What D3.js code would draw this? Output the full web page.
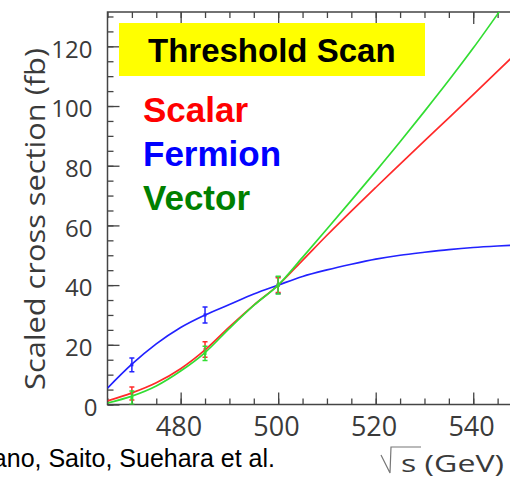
<!DOCTYPE html>
<html>
<head>
<meta charset="utf-8">
<script src="https://cdn.jsdelivr.net/npm/d3@7"></script>
<style>
  body { margin: 0; background: #fff; }
  svg { display: block; }
</style>
</head>
<body>
<svg id="chart" width="510" height="479"></svg>
<script>
// curve samples, every 5 GeV
var energy  = [465, 470, 475, 480, 485, 490, 495, 500, 505, 510, 515, 520, 525, 530, 535, 540, 545, 550];
var fermion = [5.5, 13.5, 20.3, 25.8, 30, 33.5, 37, 40, 42.9, 45.1, 47.0, 48.7, 50.0, 51.0, 51.9, 52.6, 53.1, 53.5];
var scalar  = [1.2, 3.9, 7.3, 12, 18.3, 26, 33.3, 40, 48.3, 56.7, 64.8, 72.7, 80.5, 88.3, 96, 103.8, 111.7, 119.5];
var vector  = [0.5, 2.8, 6.2, 11.2, 17.4, 25.5, 33.2, 40, 49.3, 58.8, 68.4, 78.1, 88, 98.2, 108.6, 119.4, 130.8, 142.5];

// measured points with errors
var ptEnergy   = [470, 485, 500];
var fermionPts = [13.3, 30, 40],  fermionErr = [2.3, 2.7, 2.8];
var scalarPts  = [3.7, 18.4, 40], scalarErr  = [2.2, 2.6, 2.5];
var vectorPts  = [2.3, 17.1, 40], vectorErr  = [2.2, 2.4, 3.0];

var xMajor = [480, 500, 520, 540];
var yMajor = [0, 20, 40, 60, 80, 100, 120];

var legendNames = ["Scalar", "Fermion", "Vector"];

var svg = d3.select("#chart");

var x = d3.scaleLinear().domain([465, 550]).range([107.5, 522]);
var y = d3.scaleLinear().domain([0, 131.5]).range([404.5, 12]);

var axisCol = "#444";
var labCol = "#3a3a3a";

svg.append("clipPath").attr("id", "plotclip")
  .append("rect")
  .attr("x", x(465)).attr("y", y(131.5))
  .attr("width", x(550) - x(465)).attr("height", y(0) - y(131.5));

// ticks: minor first then major, bottom + top + left
function tickAxis(axis, g) {
  g.call(axis);
  g.select(".domain").remove();
  g.selectAll("line").attr("stroke", axisCol).attr("stroke-width", 1.3);
}

var xMinor = d3.range(465, 551, 5);
var yMinor = d3.range(0, 131, 5);

tickAxis(d3.axisBottom(x).tickValues(xMinor).tickSize(-6).tickFormat(""),
  svg.append("g").attr("transform", "translate(0," + y(0) + ")"));
tickAxis(d3.axisTop(x).tickValues(xMinor).tickSize(-6).tickFormat(""),
  svg.append("g").attr("transform", "translate(0," + y(131.5) + ")"));
tickAxis(d3.axisLeft(y).tickValues(yMinor).tickSize(-6).tickFormat(""),
  svg.append("g").attr("transform", "translate(" + x(465) + ",0)"));

var xg = svg.append("g").attr("transform", "translate(0," + y(0) + ")");
tickAxis(d3.axisBottom(x).tickValues(xMajor).tickSize(-12).tickPadding(12), xg);
xg.selectAll("text")
  .attr("font-family", "Open Sans")
  .attr("font-size", 27)
  .attr("fill", labCol)
  .attr("dx", "-0.08em");

tickAxis(d3.axisTop(x).tickValues(xMajor).tickSize(-12).tickFormat(""),
  svg.append("g").attr("transform", "translate(0," + y(131.5) + ")"));

var yg = svg.append("g").attr("transform", "translate(" + x(465) + ",0)");
tickAxis(d3.axisLeft(y).tickValues(yMajor).tickSize(-12).tickPadding(15), yg);
yg.selectAll("text")
  .attr("font-family", "Open Sans")
  .attr("font-size", 24)
  .attr("fill", labCol)
  .attr("dy", "0.45em")
  .attr("dx", function(d) { return d === 0 ? 5 : 0; });

// frame
svg.append("rect")
  .attr("x", x(465)).attr("y", y(131.5))
  .attr("width", x(550) - x(465)).attr("height", y(0) - y(131.5))
  .attr("fill", "none").attr("stroke", axisCol).attr("stroke-width", 1.5);

// axis titles
svg.append("text")
  .attr("transform", "translate(45,219) rotate(-90)")
  .attr("text-anchor", "middle")
  .attr("font-family", "Open Sans")
  .attr("font-size", 28)
  .attr("fill", labCol)
  .attr("textLength", 342)
  .attr("lengthAdjust", "spacingAndGlyphs")
  .text("Scaled cross section (fb)");

svg.append("path")
  .attr("d", "M381,455 L390,473 L391,447 L421,447")
  .attr("fill", "none").attr("stroke", "#777").attr("stroke-width", 1.2);
svg.append("text")
  .attr("x", 401).attr("y", 472)
  .attr("font-family", "Open Sans")
  .attr("font-size", 24)
  .attr("fill", labCol)
  .attr("textLength", 103)
  .attr("lengthAdjust", "spacingAndGlyphs")
  .text("s (GeV)");

svg.append("text")
  .attr("x", 275).attr("y", 467)
  .attr("text-anchor", "end")
  .attr("font-family", "Liberation Sans")
  .attr("font-size", 25)
  .attr("fill", "#000")
  .text("Kitano, Saito, Suehara et al.");

// curves + points
var series = [
  {vals: fermion, pts: fermionPts, err: fermionErr, col: "#2222ff"},
  {vals: scalar,  pts: scalarPts,  err: scalarErr,  col: "#ff2a2a"},
  {vals: vector,  pts: vectorPts,  err: vectorErr,  col: "#33dd33"}
];

var line = d3.line()
  .x(function(d) { return x(d[0]); })
  .y(function(d) { return y(d[1]); })
  .curve(d3.curveMonotoneX);

var plot = svg.append("g").attr("clip-path", "url(#plotclip)");

series.forEach(function(s) {
  plot.append("path")
    .datum(d3.zip(energy, s.vals))
    .attr("d", line)
    .attr("fill", "none")
    .attr("stroke", s.col)
    .attr("stroke-width", 1.7);

  var pts = ptEnergy.map(function(e, i) { return {e: e, v: s.pts[i], err: s.err[i]}; });
  var g = plot.append("g").attr("stroke", s.col).attr("stroke-width", 1.5);
  g.selectAll(".bar").data(pts).enter().append("line")
    .attr("x1", function(d) { return x(d.e); })
    .attr("x2", function(d) { return x(d.e); })
    .attr("y1", function(d) { return y(d.v - d.err); })
    .attr("y2", function(d) { return y(d.v + d.err); });
  [-1, 1].forEach(function(sg) {
    g.selectAll(".cap" + sg).data(pts).enter().append("line")
      .attr("x1", function(d) { return x(d.e) - 2.5; })
      .attr("x2", function(d) { return x(d.e) + 2.5; })
      .attr("y1", function(d) { return y(d.v + sg * d.err); })
      .attr("y2", function(d) { return y(d.v + sg * d.err); });
  });
  g.selectAll("rect").data(pts).enter().append("rect")
    .attr("x", function(d) { return x(d.e) - 1.5; })
    .attr("y", function(d) { return y(d.v) - 1.5; })
    .attr("width", 3).attr("height", 3)
    .attr("fill", s.col).attr("stroke", "none");
});

// title box and legend
svg.append("rect")
  .attr("x", 119).attr("y", 23).attr("width", 306).attr("height", 53)
  .attr("fill", "#ffff00");
svg.append("text")
  .attr("x", 148).attr("y", 62)
  .attr("font-family", "Liberation Sans")
  .attr("font-weight", "bold")
  .attr("font-size", 33)
  .attr("fill", "#000")
  .text("Threshold Scan");

var legendCols = ["#ff0000", "#0000ff", "#008000"];
svg.selectAll(".leg").data(legendNames).enter().append("text")
  .attr("x", 143)
  .attr("y", function(d, i) { return 122 + i * 44; })
  .attr("font-family", "Liberation Sans")
  .attr("font-weight", "bold")
  .attr("font-size", 35)
  .attr("fill", function(d, i) { return legendCols[i]; })
  .text(function(d) { return d; });
</script>
</body>
</html>
